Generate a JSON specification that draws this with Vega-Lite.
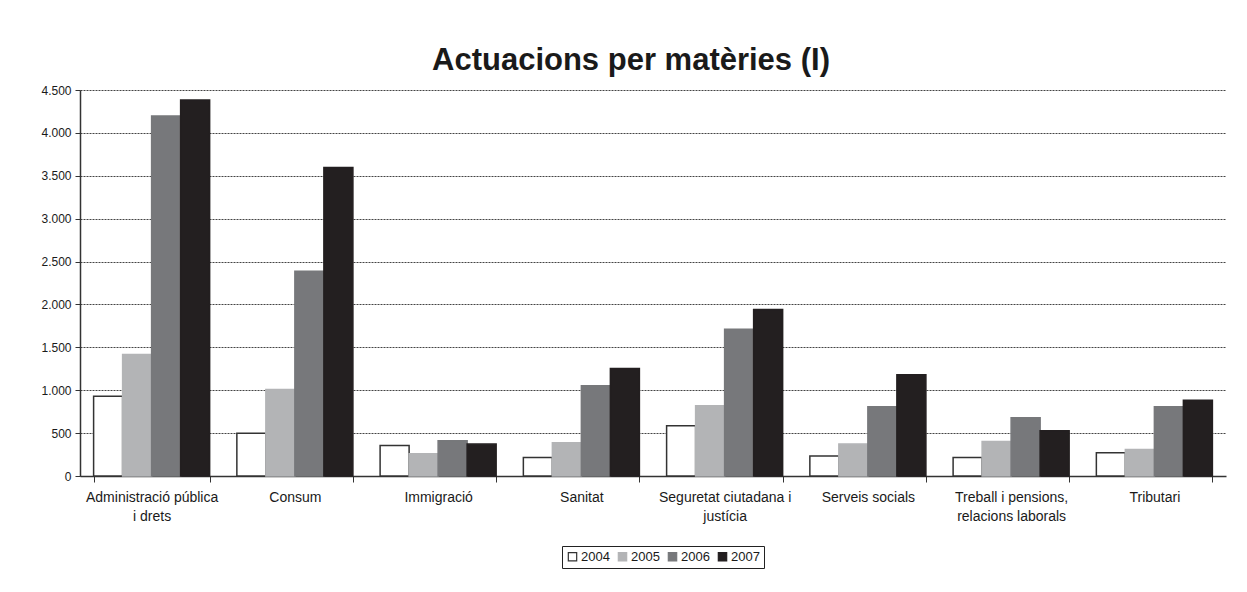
{
  "$schema": "https://vega.github.io/schema/vega-lite/v6.json",
  "autosize": {"type": "none"},
  "width": 1146,
  "height": 386,
  "padding": {"left": 80, "top": 90, "right": 21, "bottom": 116},
  "background": "white",
  "title": {
    "text": "Actuacions per matèries (I)",
    "font": "Liberation Sans",
    "fontSize": 31,
    "fontWeight": "bold",
    "color": "#1a1a1a",
    "anchor": "middle",
    "offset": 7,
    "dx": -22
  },
  "data": {
    "values": [
      {"cat": "Administració pública|i drets", "year": "2004", "value": 931},
      {"cat": "Administració pública|i drets", "year": "2005", "value": 1416},
      {"cat": "Administració pública|i drets", "year": "2006", "value": 4197},
      {"cat": "Administració pública|i drets", "year": "2007", "value": 4383},
      {"cat": "Consum", "year": "2004", "value": 497},
      {"cat": "Consum", "year": "2005", "value": 1009},
      {"cat": "Consum", "year": "2006", "value": 2386},
      {"cat": "Consum", "year": "2007", "value": 3596},
      {"cat": "Immigració", "year": "2004", "value": 357},
      {"cat": "Immigració", "year": "2005", "value": 260},
      {"cat": "Immigració", "year": "2006", "value": 411},
      {"cat": "Immigració", "year": "2007", "value": 372},
      {"cat": "Sanitat", "year": "2004", "value": 217},
      {"cat": "Sanitat", "year": "2005", "value": 388},
      {"cat": "Sanitat", "year": "2006", "value": 1051},
      {"cat": "Sanitat", "year": "2007", "value": 1253},
      {"cat": "Seguretat ciutadana i|justícia", "year": "2004", "value": 586},
      {"cat": "Seguretat ciutadana i|justícia", "year": "2005", "value": 818},
      {"cat": "Seguretat ciutadana i|justícia", "year": "2006", "value": 1711},
      {"cat": "Seguretat ciutadana i|justícia", "year": "2007", "value": 1940},
      {"cat": "Serveis socials", "year": "2004", "value": 233},
      {"cat": "Serveis socials", "year": "2005", "value": 372},
      {"cat": "Serveis socials", "year": "2006", "value": 807},
      {"cat": "Serveis socials", "year": "2007", "value": 1179},
      {"cat": "Treball i pensions,|relacions laborals", "year": "2004", "value": 217},
      {"cat": "Treball i pensions,|relacions laborals", "year": "2005", "value": 403},
      {"cat": "Treball i pensions,|relacions laborals", "year": "2006", "value": 679},
      {"cat": "Treball i pensions,|relacions laborals", "year": "2007", "value": 528},
      {"cat": "Tributari", "year": "2004", "value": 272},
      {"cat": "Tributari", "year": "2005", "value": 310},
      {"cat": "Tributari", "year": "2006", "value": 807},
      {"cat": "Tributari", "year": "2007", "value": 884}
    ]
  },
  "mark": {"type": "bar", "strokeWidth": 1.5},
  "encoding": {
    "x": {
      "field": "cat",
      "type": "nominal",
      "sort": null,
      "title": null,
      "scale": {"paddingInner": 0.19, "paddingOuter": 0.095},
      "axis": {
        "labelAngle": 0,
        "labelExpr": "split(datum.label, '|')",
        "labelFont": "Liberation Sans Narrow, Liberation Sans",
        "labelFontSize": 14,
        "labelColor": "#1a1a1a",
        "labelLineHeight": 19,
        "labelPadding": 8,
        "labelBaseline": "top",
        "tickBand": "extent",
        "tickSize": 6,
        "tickColor": "#333",
        "domainColor": "#333",
        "domainWidth": 1.5,
        "labelLimit": 0
      }
    },
    "xOffset": {"field": "year", "type": "nominal", "scale": {"paddingInner": 0}},
    "y": {
      "field": "value",
      "type": "quantitative",
      "title": null,
      "scale": {"domain": [0, 4500], "nice": false},
      "axis": {
        "values": [0, 500, 1000, 1500, 2000, 2500, 3000, 3500, 4000, 4500],
        "labelExpr": "replace(format(datum.value, ','), ',', '.')",
        "labelFont": "Liberation Sans Narrow, Liberation Sans",
        "labelFontSize": 12,
        "labelColor": "#1a1a1a",
        "labelPadding": 4,
        "tickSize": 5,
        "tickColor": "#333",
        "domainColor": "#333",
        "domainWidth": 1.5,
        "grid": true,
        "gridColor": "#444",
        "gridDash": [2, 1],
        "gridWidth": 1
      }
    },
    "fill": {
      "field": "year",
      "type": "nominal",
      "scale": {"domain": ["2004", "2005", "2006", "2007"], "range": ["#ffffff", "#b3b4b6", "#77787b", "#231f20"]},
      "legend": {
        "title": null,
        "orient": "none",
        "legendX": 482,
        "legendY": 456,
        "direction": "horizontal",
        "symbolType": "square",
        "symbolSize": 70,
        "symbolStrokeWidth": 1.2,
        "labelFont": "Liberation Sans Narrow, Liberation Sans",
        "labelFontSize": 13,
        "labelColor": "#1a1a1a",
        "labelOffset": 2,
        "columnPadding": 5,
        "strokeColor": "#222",
        "padding": 4
      }
    },
    "stroke": {
      "field": "year",
      "type": "nominal",
      "scale": {"domain": ["2004", "2005", "2006", "2007"], "range": ["#333333", "#b3b4b6", "#77787b", "#231f20"]}
    }
  },
  "config": {
    "view": {"stroke": null},
    "axis": {"gridOpacity": 1}
  }
}
